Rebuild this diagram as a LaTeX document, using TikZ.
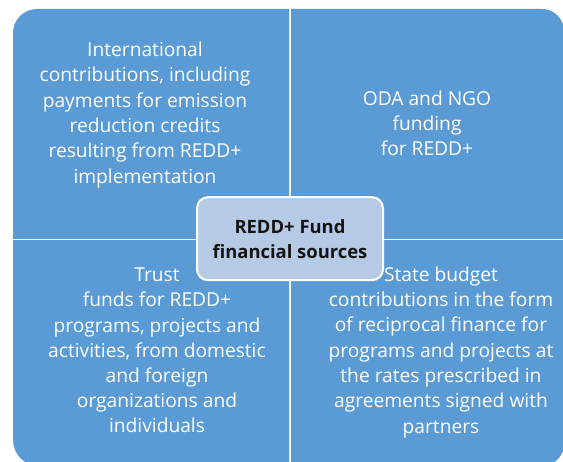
\documentclass[tikz,border=0pt]{standalone}
\usepackage{fontspec}
\setmainfont{Open Sans}
\newfontfamily\hubfont{Open Sans}
\definecolor{quadblue}{HTML}{5B9BD5}
\definecolor{centerblue}{HTML}{B6CAE6}
\definecolor{centertext}{HTML}{141414}
\begin{document}
\begin{tikzpicture}[x=1pt,y=-1pt,
  quad/.style={fill=quadblue},
  quadtext/.style={align=center,text=white,inner sep=0pt,
    font=\fontsize{19.2}{25.4}\selectfont},
  hubbox/.style={draw=white,line width=2pt,fill=centerblue,rounded corners=11pt,
    minimum width=186pt,minimum height=83pt,align=center,text=centertext,inner sep=0pt,
    font=\hubfont\bfseries\fontsize{18.4}{25}\selectfont}]
\useasboundingbox (0,0) rectangle (563,462);
\begin{scope}
  \clip (0,0) rectangle (563,462);
  % top-left
  \begin{scope}
    \clip (13,9) rectangle (289,239);
    \fill[quad,rounded corners=24pt] (13,9) rectangle (400,400);
  \end{scope}
  % top-right
  \begin{scope}
    \clip (291,9) rectangle (570,239);
    \fill[quad,rounded corners=22pt] (100,9) rectangle (564,400);
  \end{scope}
  % bottom-left
  \begin{scope}
    \clip (13,241) rectangle (289,480);
    \fill[quad,rounded corners=26pt] (13,100) rectangle (400,466);
  \end{scope}
  % bottom-right
  \begin{scope}
    \clip (291,241) rectangle (570,480);
    \fill[quad,rounded corners=22pt] (100,100) rectangle (564,466);
  \end{scope}
\end{scope}
\node[quadtext] (tl) at (145,114.8) {International\\contributions, including\\payments for emission\\reduction credits\\resulting from REDD+\\implementation};
\node[quadtext] (tr) at (427,123.4) {ODA and NGO\\funding\\for REDD+};
\node[quadtext,font=\fontsize{19.2}{25.2}\selectfont] (bl) at (157,350.5) {Trust\\funds for REDD+\\programs, projects and\\activities, from domestic\\and foreign\\organizations and\\individuals};
\node[quadtext,font=\fontsize{19.2}{25.3}\selectfont] (br) at (441,352.2) {State budget\\contributions in the form\\of reciprocal finance for\\programs and projects at\\the rates prescribed in\\agreements signed with\\partners};
\node[hubbox] (hub) at (290,238.7) {REDD+ Fund\\financial sources};
\end{tikzpicture}
\end{document}
